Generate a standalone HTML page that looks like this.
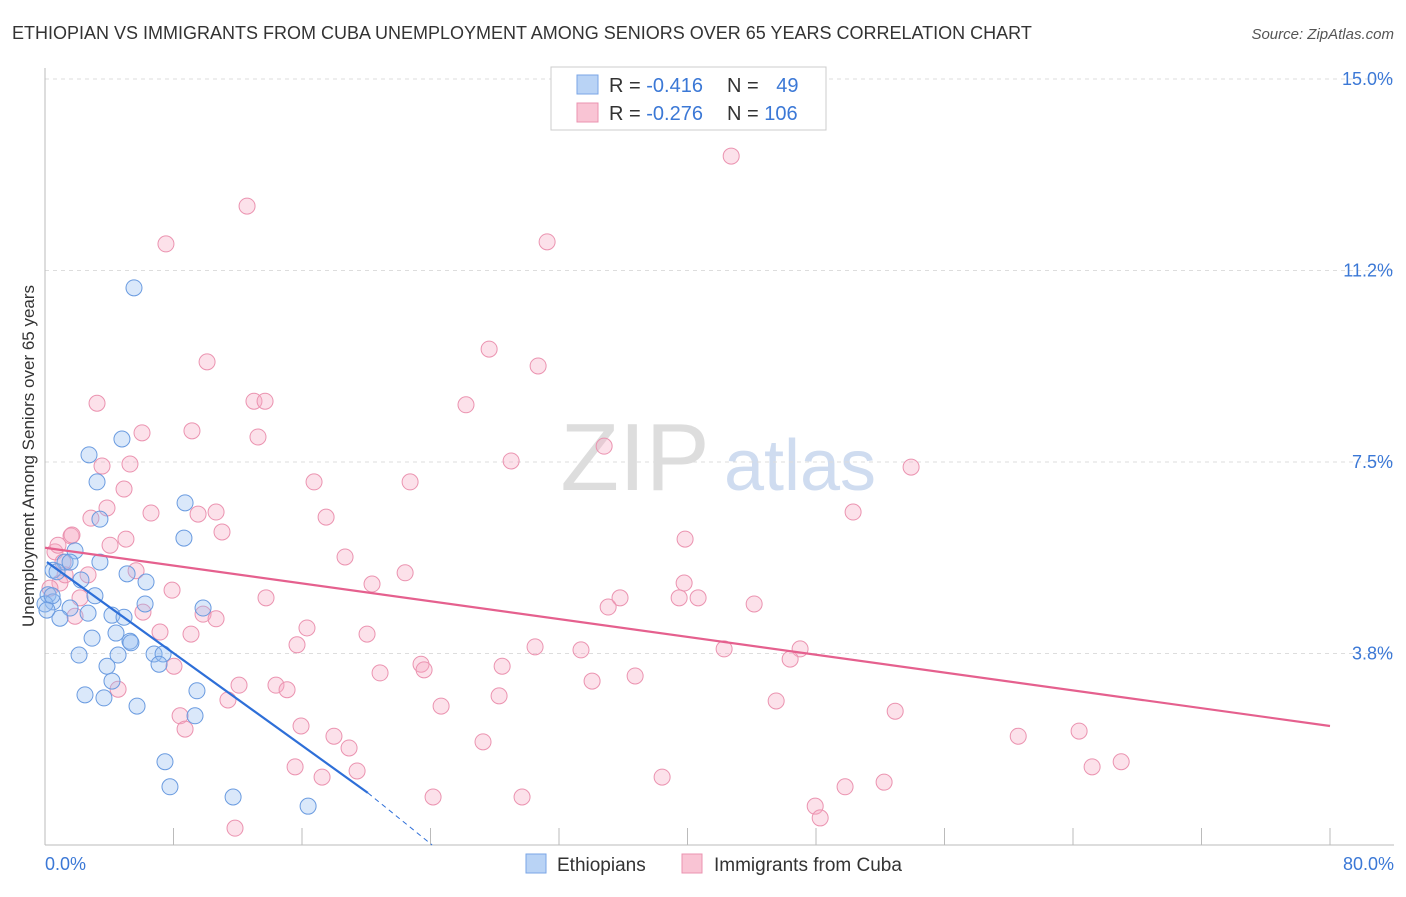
<!DOCTYPE html>
<html><head><meta charset="utf-8"><style>
body{margin:0;background:#fff;font-family:"Liberation Sans",sans-serif}
svg text{font-family:"Liberation Sans",sans-serif}
</style></head><body>
<svg id="chart" width="1406" height="892" viewBox="0 0 1406 892" xmlns="http://www.w3.org/2000/svg">
<text x="12" y="39" font-size="18" fill="#333">ETHIOPIAN VS IMMIGRANTS FROM CUBA UNEMPLOYMENT AMONG SENIORS OVER 65 YEARS CORRELATION CHART</text>
<text x="1394" y="39" font-size="15" fill="#555" text-anchor="end" font-style="italic">Source: ZipAtlas.com</text>
<g>
<text x="635" y="490" font-size="96" fill="#ddd" font-family="Liberation Serif" text-anchor="middle">ZIP</text>
<text x="800" y="490" font-size="72" fill="#cfdcf0" text-anchor="middle">atlas</text>
</g>
<g id="grid"></g><g id="axes"></g><g id="marks"></g>
<text transform="translate(34,456) rotate(-90)" font-size="17" fill="#333" text-anchor="middle">Unemployment Among Seniors over 65 years</text>
<g>
<rect x="551" y="67" width="275" height="63" fill="#fff" stroke="#ccc"/>
<rect x="577" y="75" width="21" height="19" fill="#b9d3f5" stroke="#7aa6e6"/>
<rect x="577" y="103" width="21" height="19" fill="#f9c4d4" stroke="#eb93b0"/>
<text x="609" y="92" font-size="20" fill="#333">R = <tspan fill="#3b78d6">-0.416</tspan></text>
<text x="727" y="92" font-size="20" fill="#333">N = <tspan fill="#3b78d6" dx="12">49</tspan></text>
<text x="609" y="120" font-size="20" fill="#333">R = <tspan fill="#3b78d6">-0.276</tspan></text>
<text x="727" y="120" font-size="20" fill="#333">N = <tspan fill="#3b78d6">106</tspan></text>
</g>
<g>
<rect x="526" y="854" width="20" height="19" fill="#b9d3f5" stroke="#7aa6e6"/>
<text x="557" y="871" font-size="19" fill="#333">Ethiopians</text>
<rect x="682" y="854" width="20" height="19" fill="#f9c4d4" stroke="#eb93b0"/>
<text x="714" y="871" font-size="19" fill="#333">Immigrants from Cuba</text>
</g>
</svg>
<script>
const yTicks=[3.75,7.5,11.25,15];
const yTickLabels=["3.8%","7.5%","11.2%","15.0%"];
const xTicks=[0,8,16,24,32,40,48,56,64,72,80];
const xTickLabels=["0.0%","80.0%"];
const ethX=[5.54,4.79,2.74,3.24,3.42,8.65,8.72,1.87,1.25,3.42,0.50,2.24,5.11,6.29,0.19,3.11,0.50,0,1.56,0.93,2.68,4.17,4.92,6.23,9.84,4.42,2.93,5.29,5.35,2.12,4.55,6.79,7.35,7.10,3.86,4.17,2.49,3.67,9.46,5.73,9.34,7.47,7.78,11.71,16.38,0.44,0.12,0.75,1.56];
const ethY=[10.91,7.95,7.64,7.11,6.38,6.01,6.70,5.76,5.54,5.54,5.38,5.19,5.31,5.15,4.90,4.88,4.76,4.72,4.64,4.44,4.54,4.50,4.46,4.72,4.64,4.15,4.05,3.99,3.96,3.72,3.72,3.74,3.74,3.54,3.50,3.21,2.94,2.88,3.02,2.72,2.53,1.63,1.14,0.94,0.76,4.88,4.60,5.35,5.54];
const cubX=[42.72,12.58,7.53,31.26,10.09,27.65,30.70,3.24,13.01,13.70,26.21,6.04,9.15,13.26,34.81,3.55,5.29,29.02,53.92,4.92,16.75,22.73,3.86,2.86,6.60,9.53,10.65,17.50,50.31,11.02,1.62,5.04,4.05,39.85,18.68,0.62,1.12,5.67,2.68,22.42,0.93,20.36,39.79,7.91,13.76,2.18,35.80,40.66,39.48,35.06,44.15,6.10,9.84,1.87,10.65,16.31,7.16,9.09,20.05,15.69,30.51,33.37,42.28,47.01,46.39,4.55,23.41,23.60,28.46,20.86,36.74,34.06,28.27,14.38,15.07,11.39,12.08,8.03,24.66,45.52,52.93,8.41,8.72,15.94,17.99,27.27,60.59,64.38,18.93,15.57,17.25,19.43,38.42,65.19,67.00,49.81,52.24,24.16,29.70,47.95,48.26,11.83,1.25,0.31,0.81,1.68];
const cubY=[13.49,12.51,11.77,11.81,9.46,9.71,9.38,8.65,8.69,8.69,8.62,8.07,8.11,7.99,7.81,7.42,7.46,7.52,7.40,6.97,7.11,7.11,6.60,6.40,6.50,6.48,6.52,6.42,6.52,6.13,6.05,5.99,5.87,5.99,5.64,5.74,5.54,5.37,5.29,5.33,5.13,5.11,5.13,4.99,4.84,4.84,4.84,4.84,4.84,4.66,4.72,4.56,4.52,4.48,4.43,4.25,4.17,4.13,4.13,3.92,3.88,3.82,3.84,3.84,3.64,3.05,3.54,3.43,3.50,3.37,3.31,3.21,2.92,3.13,3.04,2.84,3.13,3.50,2.72,2.82,2.62,2.53,2.27,2.33,2.13,2.02,2.13,2.23,1.90,1.53,1.33,1.45,1.33,1.53,1.63,1.14,1.23,0.94,0.94,0.76,0.53,0.33,5.29,5.03,5.87,6.07];
const ethLine=[0.12,5.54,20.1,1.02,24.1,0.0];
const cubLine=[0,5.82,80,2.33];
const X=v=>45+v*(1285/80), Y=v=>845-v*51.07;
const NS="http://www.w3.org/2000/svg";
function mk(tag,attrs,parent){const e=document.createElementNS(NS,tag);for(const k in attrs)e.setAttribute(k,attrs[k]);document.getElementById(parent).appendChild(e);return e;}
yTicks.forEach((t,i)=>{
 const g=mk('line',{x1:45,x2:1394,y1:Y(t),y2:Y(t),stroke:'#ddd','stroke-dasharray':'4,4'},'grid');
 
 
 const l=mk('text',{x:1393,y:Y(t)+6,'font-size':18,fill:'#3b78d6','text-anchor':'end'},'axes');
 l.textContent=yTickLabels[i];
 
 
});
const ax=mk('line',{x1:45,x2:45,y1:68,y2:845,stroke:'#bbb'},'axes');


const bx=mk('line',{x1:45,x2:1394,y1:845,y2:845,stroke:'#bbb'},'axes');


xTicks.forEach(t=>{
 const e=mk('line',{x1:X(t),x2:X(t),y1:828,y2:845,stroke:'#bbb'},'axes');
 
 
});
[[0,'start',45],[80,'end',1394]].forEach((d,i)=>{
 const l=mk('text',{x:d[2],y:870,'font-size':18,fill:'#3b78d6','text-anchor':d[1]},'axes');
 l.textContent=xTickLabels[i];
 
 
});
cubX.forEach((v,i)=>{
 const c=mk('circle',{cx:X(v),cy:Y(cubY[i]),r:8,fill:'rgba(246,170,196,0.35)',stroke:'#eb93b0','stroke-width':1},'marks');
 
 
});
ethX.forEach((v,i)=>{
 const c=mk('circle',{cx:X(v),cy:Y(ethY[i]),r:8,fill:'rgba(150,190,240,0.35)',stroke:'#6a9be0','stroke-width':1},'marks');
 
 
});
const l1=mk('line',{x1:X(cubLine[0]),y1:Y(cubLine[1]),x2:X(cubLine[2]),y2:Y(cubLine[3]),stroke:'#e5608e','stroke-width':2.2},'marks');


const l2=mk('line',{x1:X(ethLine[0]),y1:Y(ethLine[1]),x2:X(ethLine[2]),y2:Y(ethLine[3]),stroke:'#2e6fd8','stroke-width':2.2},'marks');


const l3=mk('line',{x1:X(ethLine[2]),y1:Y(ethLine[3]),x2:X(ethLine[4]),y2:Y(ethLine[5]),stroke:'#2e6fd8','stroke-width':1,'stroke-dasharray':'5,4'},'marks');


</script>
</body></html>
